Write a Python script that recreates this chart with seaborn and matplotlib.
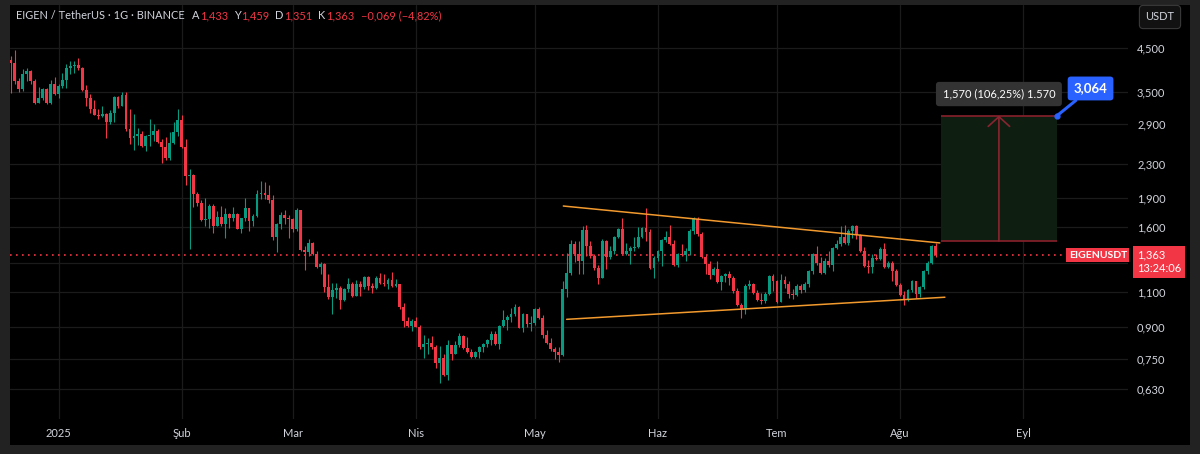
#!/usr/bin/env python3
"""
EIGEN / TetherUS daily candles (BINANCE), dark TradingView look, with the
symmetrical triangle drawn on the May-Aug range and the long-position target box.
"""

import matplotlib
matplotlib.use("Agg")
import matplotlib.pyplot as plt
import matplotlib.dates as mdates
import matplotlib.transforms as mtransforms
from matplotlib.patches import Rectangle
from matplotlib.ticker import NullLocator
import numpy as np
import pandas as pd
import seaborn as sns

# ---------------------------------------------------------------- data
first_day = "2024-12-20"

opens = [
    4.200, 4.128, 3.720, 3.553, 3.874, 3.941, 3.720, 3.277, 3.373, 3.553,
    3.277, 3.656, 3.452, 3.614, 3.742, 4.010, 4.056, 4.080, 4.010, 3.532,
    3.373, 3.166, 3.058, 3.040, 3.075, 2.937, 3.093, 3.393, 3.221, 3.432,
    2.821, 2.678, 2.709, 2.741, 2.557, 2.709, 2.725, 2.788, 2.617, 2.542,
    2.386, 2.602, 2.772, 2.971, 2.542, 2.151, 2.163, 1.939, 1.841, 1.669,
    1.678, 1.809, 1.612, 1.698, 1.631, 1.728, 1.688, 1.728, 1.584, 1.688,
    1.789, 1.659, 1.708, 1.939, 1.951, 1.928, 1.873, 1.513, 1.631, 1.718,
    1.688, 1.678, 1.584, 1.768, 1.404, 1.388, 1.462, 1.372, 1.273, 1.295,
    1.134, 1.071, 1.115, 1.128, 1.052, 1.121, 1.154, 1.077, 1.154, 1.134,
    1.201, 1.141, 1.128, 1.195, 1.161, 1.154, 1.181, 1.141, 1.154, 1.010,
    0.932, 0.906, 0.932, 0.901, 0.802, 0.816, 0.821, 0.802, 0.732, 0.753,
    0.683, 0.812, 0.771, 0.812, 0.855, 0.798, 0.780, 0.758, 0.780, 0.802,
    0.816, 0.836, 0.865, 0.816, 0.906, 0.938, 0.954, 0.971, 1.010, 0.896,
    0.971, 0.916, 0.922, 0.999, 0.949, 0.860, 0.821, 0.793, 0.780, 0.766,
    1.121, 1.230, 1.454, 1.372, 1.318, 1.575, 1.437, 1.356, 1.266, 1.195,
    1.479, 1.349, 1.396, 1.513, 1.584, 1.372, 1.396, 1.421, 1.429, 1.513,
    1.594, 1.557, 1.266, 1.341, 1.396, 1.488, 1.513, 1.454, 1.288, 1.372,
    1.364, 1.396, 1.566, 1.678, 1.539, 1.349, 1.295, 1.215, 1.258, 1.167,
    1.208, 1.222, 1.195, 1.108, 1.022, 0.999, 1.141, 1.154, 1.096, 1.052,
    1.046, 1.089, 1.208, 1.174, 1.040, 1.181, 1.154, 1.089, 1.083, 1.141,
    1.115, 1.154, 1.244, 1.372, 1.303, 1.230, 1.318, 1.288, 1.421, 1.454,
    1.513, 1.462, 1.566, 1.612, 1.531, 1.396, 1.280, 1.273, 1.341, 1.333,
    1.412, 1.273, 1.303, 1.244, 1.148, 1.083, 1.058, 1.115, 1.174, 1.089,
    1.134, 1.244, 1.303, 1.433,
]

highs = [
    4.297, 4.449, 3.785, 3.987, 4.010, 3.964, 3.763, 3.594, 3.573, 3.573,
    3.742, 3.807, 3.656, 3.896, 4.104, 4.176, 4.176, 4.249, 4.033, 3.635,
    3.452, 3.334, 3.166, 3.221, 3.093, 3.148, 3.412, 3.412, 3.492, 3.492,
    3.166, 3.075, 2.837, 2.788, 2.725, 2.988, 2.904, 2.821, 2.663, 2.694,
    2.772, 2.937, 3.166, 3.058, 2.663, 2.240, 2.176, 1.962, 1.873, 1.895,
    1.830, 1.830, 1.758, 1.809, 1.789, 1.738, 1.799, 1.738, 1.690, 1.895,
    1.789, 1.728, 1.985, 2.090, 2.078, 2.042, 1.928, 1.640, 1.748, 1.768,
    1.718, 1.688, 1.789, 1.768, 1.437, 1.496, 1.471, 1.396, 1.310, 1.303,
    1.222, 1.161, 1.161, 1.141, 1.128, 1.195, 1.167, 1.181, 1.174, 1.208,
    1.208, 1.161, 1.208, 1.230, 1.222, 1.195, 1.237, 1.188, 1.154, 1.034,
    0.954, 0.943, 0.954, 0.911, 0.860, 0.845, 0.855, 0.812, 0.807, 0.771,
    0.836, 0.812, 0.831, 0.870, 0.860, 0.850, 0.793, 0.784, 0.807, 0.821,
    0.841, 0.880, 0.880, 0.911, 0.993, 0.965, 1.004, 1.028, 1.016, 0.976,
    0.965, 0.960, 1.004, 1.010, 0.965, 0.885, 0.845, 0.802, 0.802, 1.174,
    1.380, 1.488, 1.479, 1.479, 1.612, 1.622, 1.479, 1.372, 1.288, 1.496,
    1.488, 1.437, 1.522, 1.594, 1.688, 1.462, 1.437, 1.513, 1.603, 1.603,
    1.789, 1.584, 1.356, 1.404, 1.496, 1.566, 1.622, 1.488, 1.380, 1.454,
    1.421, 1.584, 1.698, 1.698, 1.557, 1.364, 1.318, 1.273, 1.318, 1.215,
    1.230, 1.244, 1.208, 1.128, 1.034, 1.154, 1.181, 1.161, 1.115, 1.096,
    1.102, 1.215, 1.222, 1.181, 1.222, 1.208, 1.174, 1.121, 1.154, 1.154,
    1.167, 1.251, 1.380, 1.437, 1.349, 1.341, 1.396, 1.429, 1.488, 1.612,
    1.622, 1.584, 1.622, 1.622, 1.539, 1.429, 1.325, 1.372, 1.372, 1.429,
    1.462, 1.318, 1.318, 1.258, 1.161, 1.108, 1.121, 1.181, 1.174, 1.141,
    1.251, 1.318, 1.446, 1.459,
]

lows = [
    3.472, 3.656, 3.492, 3.512, 3.720, 3.656, 3.258, 3.270, 3.334, 3.258,
    3.258, 3.432, 3.373, 3.573, 3.573, 3.874, 3.896, 3.964, 3.512, 3.221,
    3.093, 3.050, 2.988, 3.023, 2.678, 2.904, 2.937, 3.184, 3.221, 2.788,
    2.587, 2.499, 2.572, 2.542, 2.484, 2.557, 2.632, 2.602, 2.319, 2.359,
    2.359, 2.587, 2.709, 2.528, 2.042, 1.412, 1.799, 1.809, 1.659, 1.612,
    1.594, 1.548, 1.612, 1.612, 1.505, 1.594, 1.659, 1.580, 1.548, 1.659,
    1.566, 1.612, 1.698, 1.884, 1.884, 1.841, 1.488, 1.388, 1.584, 1.631,
    1.505, 1.557, 1.566, 1.396, 1.251, 1.356, 1.364, 1.266, 1.222, 1.102,
    1.058, 0.971, 1.065, 0.999, 1.046, 1.102, 1.071, 1.077, 1.077, 1.121,
    1.115, 1.096, 1.121, 1.154, 1.141, 1.121, 1.134, 1.134, 0.999, 0.901,
    0.901, 0.880, 0.900, 0.793, 0.753, 0.771, 0.793, 0.711, 0.652, 0.679,
    0.664, 0.744, 0.771, 0.802, 0.793, 0.775, 0.755, 0.753, 0.753, 0.780,
    0.802, 0.812, 0.812, 0.793, 0.901, 0.885, 0.927, 0.960, 0.894, 0.875,
    0.901, 0.880, 0.911, 0.943, 0.845, 0.816, 0.784, 0.749, 0.736, 0.762,
    1.071, 1.215, 1.310, 1.222, 1.222, 1.356, 1.341, 1.251, 1.154, 1.195,
    1.258, 1.333, 1.372, 1.505, 1.370, 1.364, 1.295, 1.396, 1.421, 1.505,
    1.479, 1.258, 1.195, 1.318, 1.280, 1.471, 1.446, 1.280, 1.273, 1.356,
    1.318, 1.364, 1.539, 1.522, 1.341, 1.222, 1.188, 1.215, 1.161, 1.115,
    1.167, 1.148, 1.096, 1.016, 0.949, 0.971, 1.121, 1.089, 1.046, 1.028,
    1.034, 1.083, 1.108, 1.034, 1.040, 1.128, 1.065, 1.058, 1.077, 1.096,
    1.102, 1.134, 1.222, 1.288, 1.222, 1.222, 1.273, 1.244, 1.412, 1.437,
    1.454, 1.446, 1.505, 1.496, 1.388, 1.273, 1.230, 1.230, 1.325, 1.325,
    1.266, 1.266, 1.174, 1.141, 1.077, 1.022, 1.046, 1.102, 1.065, 1.071,
    1.121, 1.222, 1.295, 1.351,
]

closes = [
    4.128, 3.720, 3.553, 3.874, 3.941, 3.720, 3.277, 3.373, 3.553, 3.277,
    3.656, 3.452, 3.614, 3.742, 4.010, 4.056, 4.080, 4.010, 3.532, 3.373,
    3.166, 3.058, 3.040, 3.075, 2.937, 3.093, 3.393, 3.221, 3.432, 2.821,
    2.678, 2.709, 2.741, 2.557, 2.709, 2.725, 2.788, 2.617, 2.542, 2.386,
    2.602, 2.772, 2.971, 2.542, 2.151, 2.163, 1.939, 1.841, 1.669, 1.678,
    1.809, 1.612, 1.698, 1.631, 1.728, 1.688, 1.728, 1.584, 1.688, 1.789,
    1.659, 1.708, 1.939, 1.951, 1.928, 1.873, 1.513, 1.631, 1.718, 1.688,
    1.678, 1.584, 1.768, 1.404, 1.388, 1.462, 1.372, 1.273, 1.295, 1.134,
    1.071, 1.115, 1.128, 1.052, 1.121, 1.154, 1.077, 1.154, 1.134, 1.201,
    1.141, 1.128, 1.195, 1.161, 1.154, 1.181, 1.141, 1.154, 1.010, 0.932,
    0.906, 0.932, 0.901, 0.802, 0.816, 0.821, 0.802, 0.732, 0.753, 0.683,
    0.812, 0.771, 0.812, 0.855, 0.798, 0.780, 0.758, 0.780, 0.802, 0.816,
    0.836, 0.865, 0.816, 0.906, 0.938, 0.954, 0.971, 1.010, 0.896, 0.971,
    0.916, 0.922, 0.999, 0.949, 0.860, 0.821, 0.793, 0.780, 0.766, 1.121,
    1.230, 1.454, 1.372, 1.318, 1.575, 1.437, 1.356, 1.266, 1.195, 1.479,
    1.349, 1.396, 1.513, 1.584, 1.372, 1.396, 1.421, 1.429, 1.513, 1.594,
    1.557, 1.266, 1.341, 1.396, 1.488, 1.513, 1.454, 1.288, 1.372, 1.364,
    1.396, 1.566, 1.678, 1.539, 1.349, 1.295, 1.215, 1.258, 1.167, 1.208,
    1.222, 1.195, 1.108, 1.022, 0.999, 1.141, 1.154, 1.096, 1.052, 1.046,
    1.089, 1.208, 1.174, 1.040, 1.181, 1.154, 1.089, 1.083, 1.141, 1.115,
    1.154, 1.244, 1.372, 1.303, 1.230, 1.318, 1.288, 1.421, 1.454, 1.513,
    1.462, 1.566, 1.612, 1.531, 1.396, 1.280, 1.273, 1.341, 1.333, 1.412,
    1.273, 1.303, 1.244, 1.148, 1.083, 1.058, 1.115, 1.174, 1.089, 1.134,
    1.244, 1.303, 1.433, 1.363,
]

price_ticks = [0.63, 0.75, 0.90, 1.10, 1.30, 1.60, 1.90, 2.30, 2.90, 3.50, 4.50]
price_tick_labels = ["0,630", "0,750", "0,900", "1,100", "", "1,600",
                     "1,900", "2,300", "2,900", "3,500", "4,500"]

month_ticks = ["2025-01-01", "2025-02-01", "2025-03-01", "2025-04-01", "2025-05-01",
               "2025-06-01", "2025-07-01", "2025-08-01", "2025-09-01"]
month_labels = ["2025", "Şub", "Mar", "Nis", "May", "Haz", "Tem", "Ağu", "Eyl"]

# triangle drawn on the chart
upper_line_dates = ["2025-05-08 04:00", "2025-08-11 00:00"]
upper_line_prices = [1.809, 1.462]
lower_line_dates = ["2025-05-09 00:00", "2025-08-12 07:00"]
lower_line_prices = [0.941, 1.069]

# long-position / measure box
box_start = "2025-08-11 05:00"
box_end = "2025-09-09 14:00"
box_bottom = 1.478
box_top = 3.048
measure_text = "1,570 (106,25%) 1.570"
target_text = "3,064"

header_parts = [
    ("EIGEN / TetherUS · 1G · BINANCE", "light", 7),
    ("A", "light", 0.5), ("1,433", "red", 6),
    ("Y", "light", 0.5), ("1,459", "red", 6),
    ("D", "light", 0.5), ("1,351", "red", 6),
    ("K", "light", 0.5), ("1,363", "red", 7),
    ("−0,069 (−4,82%)", "red", 0),
]
countdown_text = "13:24:06"
symbol_text = "EIGENUSDT"
currency_text = "USDT"

view_start = "2024-12-19 18:40"
view_end = "2025-09-27 10:00"
view_low = 0.5296
view_high = 5.767

# ---------------------------------------------------------------- style
UP = "#089981"
DOWN = "#f23645"
LIGHT = "#d1d4dc"
GRID = "#1b1b1b"
FRAME = "#222222"
W, H = 1200, 454


def draw_candles(ax):
    dates = pd.date_range(first_day, periods=len(closes), freq="D")
    xs = mdates.date2num(dates)
    o = np.array(opens)
    c = np.array(closes)
    colors = np.where(c >= o, UP, DOWN)
    ax.vlines(xs, lows, highs, colors=colors, linewidth=0.8, zorder=3)
    body_low = np.minimum(o, c)
    body_h = np.maximum(np.abs(c - o), body_low * 0.004)
    ax.bar(xs, body_h, bottom=body_low, width=0.72, color=colors,
           linewidth=0, zorder=4)


def draw_overlays(ax):
    # triangle lines
    for d, p in ((upper_line_dates, upper_line_prices),
                 (lower_line_dates, lower_line_prices)):
        sns.lineplot(x=mdates.date2num(pd.to_datetime(d)), y=p, ax=ax,
                     color="#f29a2e", linewidth=1.1, zorder=5)

    # last price dotted line
    ax.axhline(closes[-1], color=DOWN, linewidth=1.2,
               linestyle=(0, (1, 2.6)), zorder=2)

    # measure box
    x0 = mdates.date2num(pd.Timestamp(box_start))
    x1 = mdates.date2num(pd.Timestamp(box_end))
    xm = (x0 + x1) / 2
    ax.add_patch(Rectangle((x0, box_bottom), x1 - x0, box_top - box_bottom,
                           facecolor="#0e1f11", edgecolor="none", zorder=1))
    ax.hlines([box_bottom, box_top], x0, x1, color="#7e1f28", linewidth=1.3, zorder=6)
    ax.annotate("", xy=(xm, box_top), xytext=(xm, box_bottom),
                arrowprops=dict(arrowstyle="->,head_length=0.5,head_width=0.55",
                                color="#8a2430", lw=1.2, mutation_scale=14,
                                shrinkA=0, shrinkB=0), zorder=6)
    ax.annotate(measure_text, xy=(xm, box_top), xytext=(0, 15.5),
                textcoords="offset points", ha="center", va="center",
                color="white", fontsize=8, zorder=8,
                bbox=dict(boxstyle="round,pad=0.6,rounding_size=0.3",
                          fc="#333333", ec="none"))

    # blue target label with its tail
    ax.plot([x1], [box_top], marker="o", ms=3.5, color="#2962ff", zorder=9)
    ax.annotate(target_text, xy=(x1, box_top), xytext=(24, 19.5),
                textcoords="offset points", ha="center", va="center",
                color="white", fontsize=9.5, fontweight="bold", zorder=9,
                bbox=dict(boxstyle="round,pad=0.45,rounding_size=0.25",
                          fc="#2962ff", ec="none"),
                arrowprops=dict(arrowstyle="-", color="#2962ff", lw=2.2,
                                shrinkA=0, shrinkB=0))

    # symbol tag at right edge of the pane
    trans = mtransforms.blended_transform_factory(ax.transAxes, ax.transData)
    ax.text(0.999, closes[-1], symbol_text, transform=trans, ha="right",
            va="center", color="white", fontsize=7.5, fontweight="bold", zorder=9,
            bbox=dict(boxstyle="square,pad=0.25", fc=DOWN, ec="none"))

    # price tag on the price scale
    ax.annotate(f"{closes[-1]:.3f}".replace(".", ",") + "\n" + countdown_text,
                xy=(1.0, closes[-1]), xycoords=trans, xytext=(6.3, -5.0),
                textcoords="offset points", ha="left", va="center",
                color="white", fontsize=8, linespacing=1.25,
                annotation_clip=False, zorder=9,
                bbox=dict(boxstyle="square,pad=0.32", fc=DOWN, ec="none"))


def draw_header(fig):
    renderer = fig.canvas.get_renderer()
    x = 16.0
    for text, tone, gap in header_parts:
        t = fig.text(x / W, 1 - 15.5 / H, text, fontsize=7.9, va="center",
                     ha="left", color=LIGHT if tone == "light" else DOWN)
        bb = t.get_window_extent(renderer)
        x = bb.x1 + gap

    fig.text(1160 / W, 1 - 17 / H, currency_text, ha="center", va="center",
             color=LIGHT, fontsize=8,
             bbox=dict(boxstyle="round,pad=0.55,rounding_size=0.35",
                       fc="#121212", ec="#3a3a3a", lw=0.8))


def create_figure():
    sns.set_style("dark")
    plt.rcParams["font.family"] = ["Lato", "DejaVu Sans"]

    fig = plt.figure(figsize=(W / 100, H / 100), dpi=100)
    fig.patch.set_facecolor(FRAME)
    panel = Rectangle((10 / W, 9 / H), 1180 / W, 440 / H,
                      transform=fig.transFigure, facecolor="black",
                      edgecolor="none", zorder=-10)
    fig.patches.append(panel)

    ax = fig.add_axes([10 / W, 35 / H, 1118 / W, 414 / H])
    ax.set_zorder(1)
    ax.set_facecolor("black")
    ax.set_yscale("log")

    draw_candles(ax)
    draw_overlays(ax)

    ax.set_xlim(mdates.date2num(pd.Timestamp(view_start)),
                mdates.date2num(pd.Timestamp(view_end)))
    ax.set_ylim(view_low, view_high)

    ax.yaxis.tick_right()
    ax.set_yticks(price_ticks)
    ax.set_yticklabels(price_tick_labels)
    ax.yaxis.set_minor_locator(NullLocator())
    ax.set_xticks(mdates.date2num(pd.to_datetime(month_ticks)))
    ax.set_xticklabels(month_labels)
    ax.xaxis.set_minor_locator(NullLocator())
    ax.tick_params(axis="y", length=0, pad=6.5, labelsize=8, labelcolor=LIGHT)
    ax.tick_params(axis="x", length=0, pad=6.3, labelsize=8, labelcolor=LIGHT)
    ax.grid(True, color=GRID, linewidth=0.9)
    ax.set_axisbelow(True)
    ax.set_xlabel("")
    ax.set_ylabel("")
    for s in ax.spines.values():
        s.set_visible(False)

    draw_header(fig)
    return fig


def main():
    fig = create_figure()
    fig.savefig("out.png", dpi=100, facecolor=fig.get_facecolor())
    plt.close(fig)


if __name__ == "__main__":
    main()
